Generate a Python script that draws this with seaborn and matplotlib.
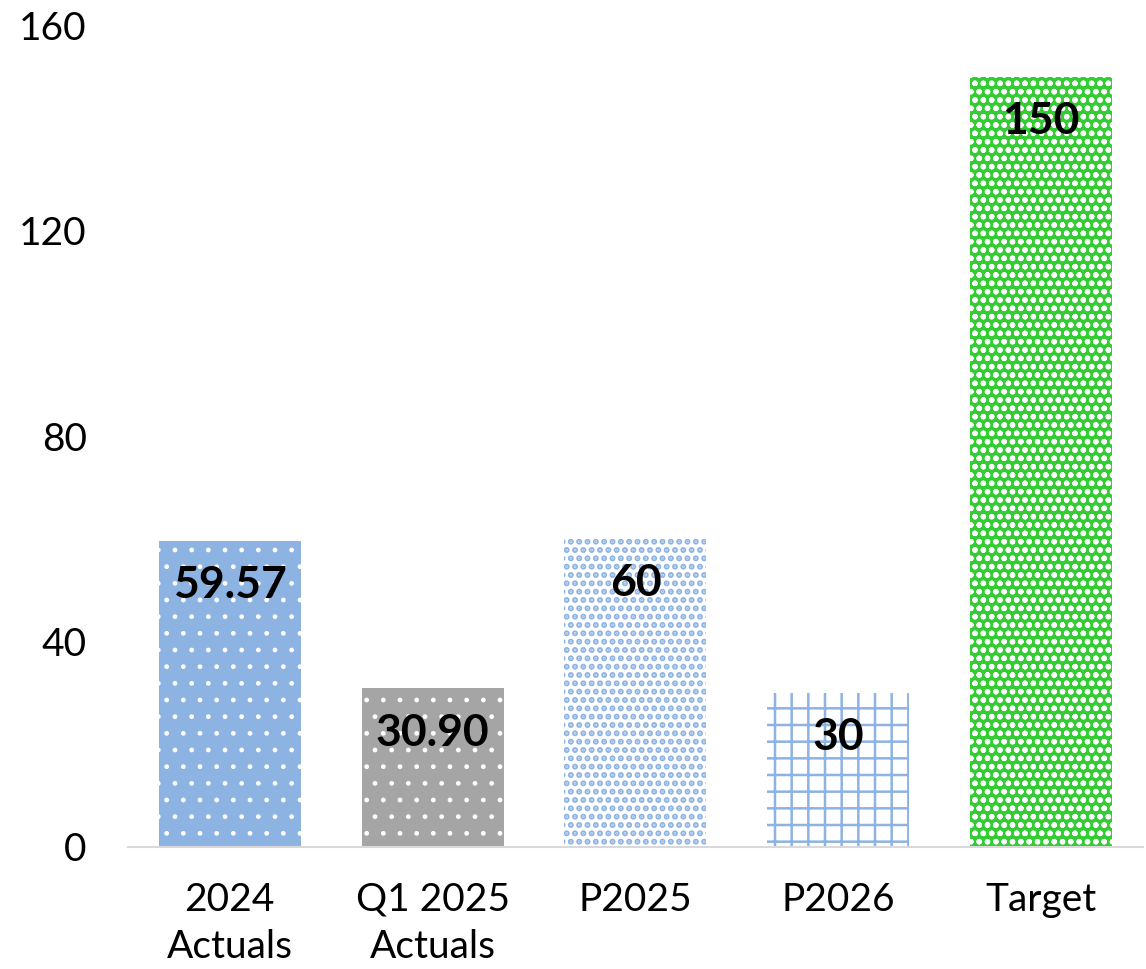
import matplotlib
matplotlib.use("Agg")
import matplotlib.pyplot as plt
import seaborn as sns

# Chart data
categories = ["2024\nActuals", "Q1 2025\nActuals", "P2025", "P2026", "Target"]
values = [59.57, 30.90, 60, 30, 150]
value_labels = ["59.57", "30.90", "60", "30", "150"]
y_ticks = [0, 40, 80, 120, 160]

# Fill style per bar (face, hatch, hatch colour)
faces = ["#8DB3E2", "#A5A5A5", "#FFFFFF", "#FFFFFF", "#33CC33"]
hatches = [".", ".", "..", "+", "oo"]
hatch_cols = ["#FFFFFF", "#FFFFFF", "#8DB3E2", "#8DB3E2", "#FFFFFF"]
hatch_lw = [1.0, 1.0, 3.0, 1.8, 1.6]

sns.set_style("white")
plt.rcParams["font.family"] = ["Lato", "DejaVu Sans"]
plt.rcParams["hatch.linewidth"] = 1.6

fig = plt.figure(figsize=(11.46, 9.69), dpi=100)
ax = fig.add_axes([0.112, 0.126, 0.885, 0.848])

sns.barplot(x=categories, y=values, hue=categories, palette=faces,
            width=0.7, legend=False, ax=ax, saturation=1)

for patch, fc, h, hc, lw in zip(ax.patches, faces, hatches, hatch_cols, hatch_lw):
    patch.set_facecolor(fc)
    patch.set_hatch(h)
    patch.set_edgecolor(hc)
    patch.set_linewidth(0)
    if hasattr(patch, "set_hatch_linewidth"):
        patch.set_hatch_linewidth(lw)

# Value labels inside the top of each bar
for i, (v, lab) in enumerate(zip(values, value_labels)):
    ax.annotate(lab, xy=(i, v), xytext=(0, -32), textcoords="offset points",
                ha="center", va="center", fontsize=32, fontweight="bold",
                color="black")

ax.set_ylim(0, 160)
ax.set_xlim(-0.5, 4.5)
ax.set_yticks(y_ticks)
ax.tick_params(axis="y", labelsize=28, length=0, pad=30, labelcolor="black")
ax.tick_params(axis="x", labelsize=28, length=0, pad=25, labelcolor="black")
for t in ax.get_xticklabels():
    t.set_linespacing(1.38)
ax.set_xlabel("")
ax.set_ylabel("")

for side in ["top", "right", "left"]:
    ax.spines[side].set_visible(False)
ax.spines["bottom"].set_color("#D9D9D9")
ax.spines["bottom"].set_linewidth(1.5)

fig.savefig("out.png", dpi=100)
